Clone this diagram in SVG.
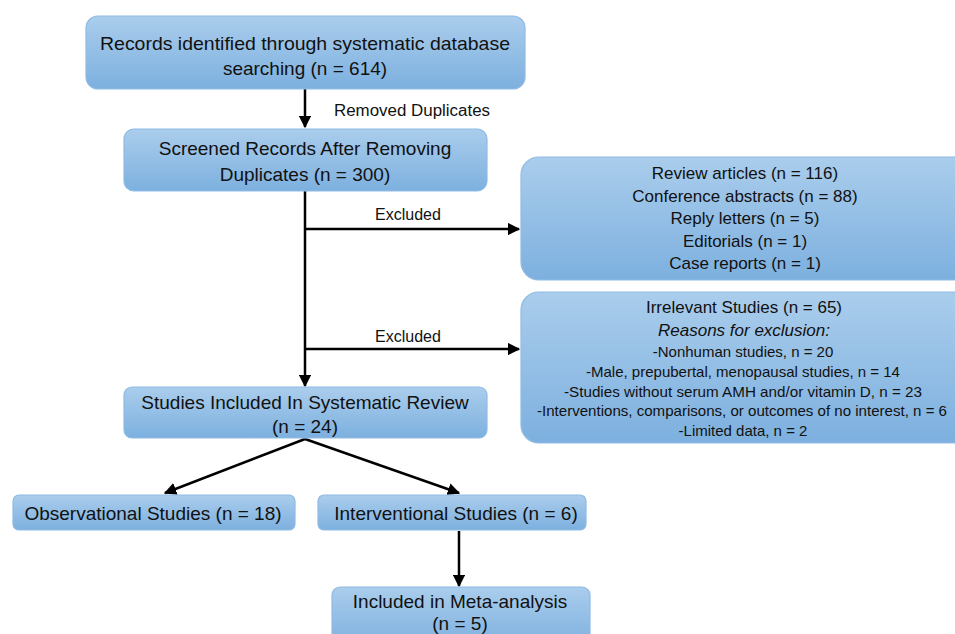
<svg xmlns="http://www.w3.org/2000/svg" width="955" height="634" viewBox="0 0 955 634">
<defs>
<linearGradient id="g" x1="0" y1="0" x2="0" y2="1">
<stop offset="0" stop-color="#aacdec"/>
<stop offset="1" stop-color="#7db0df"/>
</linearGradient>
<marker id="ah" viewBox="0 0 10 10" refX="9" refY="5" markerWidth="5" markerHeight="5" orient="auto" markerUnits="strokeWidth">
<path d="M0,0 L10,5 L0,10 z" fill="#000"/>
</marker>
</defs>
<style>
.box{fill:url(#g);stroke:#8fbbe4;stroke-width:1.2}
text{font-family:"Liberation Sans",Arial,sans-serif;fill:#111;text-anchor:middle}
.t{font-size:19px}
.m{font-size:17px}
.s{font-size:15px}
.l{font-size:16px;text-anchor:start}
.c{stroke:#000;stroke-width:2.5;fill:none}
</style>
<rect width="955" height="634" fill="#fff"/>
<g id="connectors">
<line class="c" x1="305" y1="89" x2="305" y2="127" marker-end="url(#ah)"/>
<line class="c" x1="305" y1="191" x2="305" y2="386" marker-end="url(#ah)"/>
<line class="c" x1="304" y1="229" x2="519" y2="229" marker-end="url(#ah)"/>
<line class="c" x1="304" y1="349" x2="519" y2="349" marker-end="url(#ah)"/>
<line class="c" x1="305" y1="439" x2="165" y2="493" marker-end="url(#ah)"/>
<line class="c" x1="305" y1="439" x2="459" y2="493" marker-end="url(#ah)"/>
<line class="c" x1="459" y1="531" x2="459" y2="586" marker-end="url(#ah)"/>
<text class="l" x="334" y="116" textLength="156" lengthAdjust="spacingAndGlyphs">Removed Duplicates</text>
<text class="l" x="375" y="220">Excluded</text>
<text class="l" x="375" y="342">Excluded</text>
</g>
<g id="n1">
<rect class="box" x="86" y="16" width="439" height="73" rx="12"/>
<text class="t" x="305" y="50" textLength="410" lengthAdjust="spacingAndGlyphs">Records identified through systematic database</text>
<text class="t" x="305" y="75">searching (n = 614)</text>
</g>
<g id="n2">
<rect class="box" x="124" y="129" width="363" height="62" rx="10"/>
<text class="t" x="305" y="155">Screened Records After Removing</text>
<text class="t" x="305" y="181">Duplicates (n = 300)</text>
</g>
<g id="n3">
<rect class="box" x="521" y="157" width="450" height="123" rx="18"/>
<text class="m" x="745" y="179">Review articles (n = 116)</text>
<text class="m" x="745" y="202">Conference abstracts (n = 88)</text>
<text class="m" x="745" y="224">Reply letters (n = 5)</text>
<text class="m" x="745" y="247">Editorials (n = 1)</text>
<text class="m" x="745" y="269">Case reports (n = 1)</text>
</g>
<g id="n4">
<rect class="box" x="521" y="292" width="450" height="151" rx="18"/>
<text class="m" x="744" y="313">Irrelevant Studies (n = 65)</text>
<text class="m" x="744" y="336" font-style="italic">Reasons for exclusion:</text>
<text class="s" x="743" y="357">-Nonhuman studies, n = 20</text>
<text class="s" x="743" y="377">-Male, prepubertal, menopausal studies, n = 14</text>
<text class="s" x="743" y="397" textLength="358" lengthAdjust="spacingAndGlyphs">-Studies without serum AMH and/or vitamin D, n = 23</text>
<text class="s" x="742" y="416" textLength="410" lengthAdjust="spacingAndGlyphs">-Interventions, comparisons, or outcomes of no interest, n = 6</text>
<text class="s" x="743" y="436">-Limited data, n = 2</text>
</g>
<g id="n5">
<rect class="box" x="124" y="387" width="363" height="51" rx="8"/>
<text class="t" x="305" y="409">Studies Included In Systematic Review</text>
<text class="t" x="305" y="433">(n = 24)</text>
</g>
<g id="n6">
<rect class="box" x="13" y="495" width="282" height="35" rx="6"/>
<text class="t" x="153" y="520">Observational Studies (n = 18)</text>
</g>
<g id="n7">
<rect class="box" x="318" y="495" width="268" height="35" rx="6"/>
<text class="t" x="456" y="520">Interventional Studies (n = 6)</text>
</g>
<g id="n8">
<rect class="box" x="332" y="587" width="258" height="60" rx="8"/>
<text class="t" x="460" y="608">Included in Meta-analysis</text>
<text class="t" x="460" y="630">(n = 5)</text>
</g>
</svg>
